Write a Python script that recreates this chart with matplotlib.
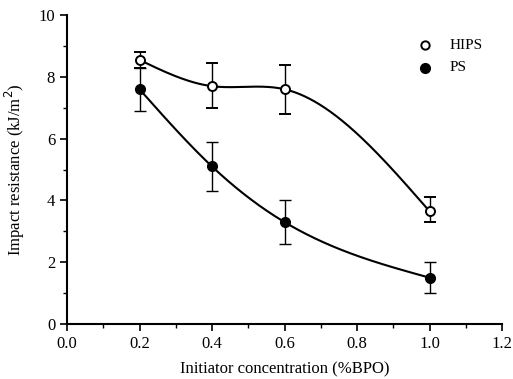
import numpy as np
import matplotlib
matplotlib.use("Agg")
import matplotlib.pyplot as plt
from matplotlib.ticker import MultipleLocator, FormatStrFormatter

plt.rcParams['font.family'] = ['Liberation Serif', 'DejaVu Serif']

conc = [0.2, 0.4, 0.6, 1.0]
hips = [8.55, 7.7, 7.6, 3.65]
hips_hi = [8.8, 8.45, 8.4, 4.1]
hips_lo = [8.3, 7.0, 6.8, 3.3]
ps = [7.6, 5.1, 3.3, 1.5]
ps_hi = [8.3, 5.9, 4.0, 2.0]
ps_lo = [6.9, 4.3, 2.6, 1.0]


def natural_spline(x, y, xs):
    x = np.asarray(x, float); y = np.asarray(y, float)
    n = len(x)
    h = np.diff(x)
    A = np.zeros((n, n)); b = np.zeros(n)
    A[0, 0] = 1; A[-1, -1] = 1
    for i in range(1, n - 1):
        A[i, i - 1] = h[i - 1]
        A[i, i] = 2 * (h[i - 1] + h[i])
        A[i, i + 1] = h[i]
        b[i] = 3 * ((y[i + 1] - y[i]) / h[i] - (y[i] - y[i - 1]) / h[i - 1])
    c = np.linalg.solve(A, b)
    out = np.empty_like(xs)
    for k, t in enumerate(xs):
        i = min(max(np.searchsorted(x, t) - 1, 0), n - 2)
        bi = (y[i + 1] - y[i]) / h[i] - h[i] * (2 * c[i] + c[i + 1]) / 3
        di = (c[i + 1] - c[i]) / (3 * h[i])
        dx = t - x[i]
        out[k] = y[i] + bi * dx + c[i] * dx ** 2 + di * dx ** 3
    return out


fig = plt.figure(figsize=(5.13, 3.79), dpi=100)
ax = fig.add_axes([0.1306, 0.1451, 0.848, 0.815])

xs = np.linspace(conc[0], conc[-1], 300)
ax.plot(xs, natural_spline(conc, hips, xs), color='black', lw=1.5, zorder=2)
ax.plot(xs, natural_spline(conc, ps, xs), color='black', lw=1.5, zorder=2)

h = np.array(hips)
ax.errorbar(conc, hips, yerr=[h - np.array(hips_lo), np.array(hips_hi) - h],
            fmt='o', mfc='white', mec='black', mew=1.4, ms=6.5, ecolor='black',
            elinewidth=1.0, capsize=4, capthick=1.0, zorder=3)
p = np.array(ps)
ax.errorbar(conc, ps, yerr=[p - np.array(ps_lo), np.array(ps_hi) - p],
            fmt='o', mfc='black', mec='black', ms=7, ecolor='black',
            elinewidth=1.0, capsize=4, capthick=1.0, zorder=3)

ax.plot([0.988], [9.03], 'o', mfc='white', mec='black', mew=1.4, ms=6,
        clip_on=False)
ax.plot([0.988], [8.3], 'o', mfc='black', mec='black', ms=7,
        clip_on=False)
ax.text(1.055, 9.03, 'HIPS', fontsize=11, va='center', ha='left')
ax.text(1.055, 8.3, 'PS', fontsize=11, va='center', ha='left')

ax.set_xlim(0, 1.2)
ax.set_ylim(0, 10)
ax.xaxis.set_major_locator(MultipleLocator(0.2))
ax.xaxis.set_minor_locator(MultipleLocator(0.1))
ax.yaxis.set_major_locator(MultipleLocator(2))
ax.yaxis.set_minor_locator(MultipleLocator(1))
ax.xaxis.set_major_formatter(FormatStrFormatter('%.1f'))
ax.tick_params(which='major', direction='out', length=5, width=1.2, labelsize=12)
ax.tick_params(which='minor', direction='out', length=3, width=1.0)
ax.spines['top'].set_visible(False)
ax.spines['right'].set_visible(False)
ax.spines['left'].set_linewidth(1.5)
ax.spines['bottom'].set_linewidth(1.5)

ax.set_xlabel('Initiator concentration (%BPO)', fontsize=12, labelpad=7)
ax.set_ylabel('Impact resistance (kJ/m$^2$)', fontsize=12, labelpad=8)

fig.savefig('out.png', dpi=100)
